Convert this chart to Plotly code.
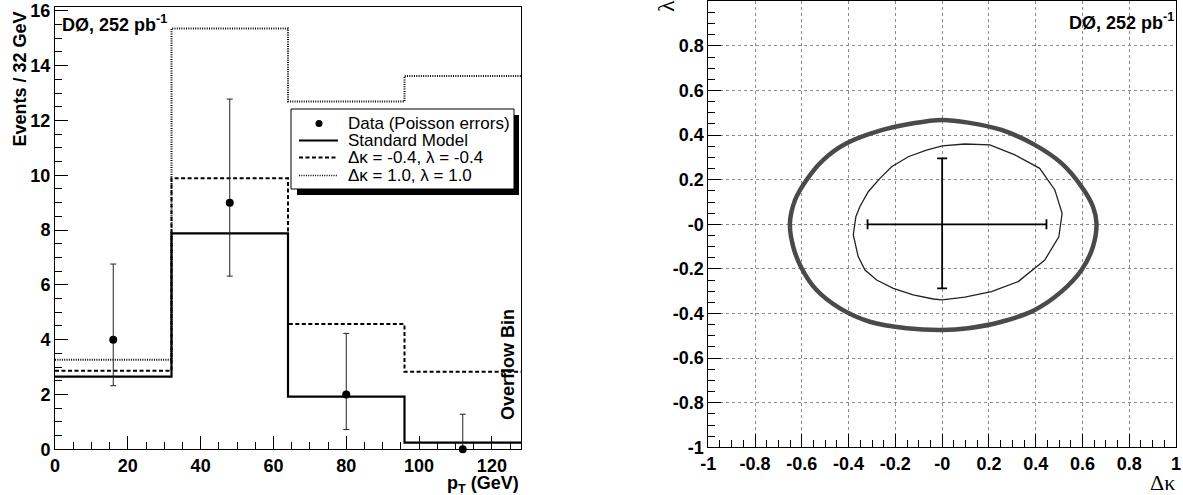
import plotly.graph_objects as go

W, H = 1183, 495

# ---------------- data: left panel (pT histogram) ----------------
bin_edges = [0, 32, 64, 96, 128]
sm_values = [2.65, 7.88, 1.92, 0.24]
dk_m04_values = [2.87, 9.89, 4.57, 2.83]
dk_p10_values = [3.27, 15.36, 12.69, 13.62]
data_x = [16, 48, 80, 112]
data_y = [4, 9, 2, 0]
data_err_up = [2.76, 3.78, 2.23, 1.28]
data_err_down = [1.68, 2.68, 1.28, 0.0]

# ---------------- data: right panel (Δκ vs λ contours) ----------------
outer_dk = [0.0, 0.111, 0.254, 0.396, 0.510, 0.596, 0.645, 0.660, 0.645, 0.596, 0.510, 0.396,
            0.254, 0.111, 0.0, -0.152, -0.309, -0.437, -0.537, -0.601, -0.637, -0.651, -0.629,
            -0.580, -0.509, -0.409, -0.266, -0.124, 0.0]
outer_lam = [0.468, 0.456, 0.423, 0.356, 0.274, 0.169, 0.079, 0.004, -0.100, -0.205, -0.302, -0.384,
             -0.437, -0.466, -0.474, -0.466, -0.437, -0.377, -0.295, -0.197, -0.100, 0.004, 0.109,
             0.199, 0.288, 0.363, 0.420, 0.453, 0.468]
inner_dk = [-0.067, 0.0, 0.097, 0.204, 0.311, 0.417, 0.482, 0.513, 0.499, 0.439, 0.325, 0.211,
            0.097, 0.0, -0.038, -0.124, -0.209, -0.280, -0.330, -0.359, -0.380, -0.369, -0.352,
            -0.316, -0.266, -0.216, -0.145, -0.067]
inner_lam = [0.333, 0.352, 0.360, 0.356, 0.311, 0.251, 0.154, 0.049, -0.056, -0.160, -0.257, -0.302,
             -0.327, -0.339, -0.335, -0.317, -0.287, -0.250, -0.205, -0.145, -0.048, 0.034, 0.079,
             0.146, 0.206, 0.258, 0.303, 0.333]
best_dk = [0.0]
best_lam = [0.0]
dk_err_plus = [0.446]
dk_err_minus = [0.319]
lam_err_plus = [0.296]
lam_err_minus = [0.287]

left_xticks = [0, 20, 40, 60, 80, 100, 120]
left_yticks = [0, 2, 4, 6, 8, 10, 12, 14, 16]
right_ticks = [-1, -0.8, -0.6, -0.4, -0.2, 0, 0.2, 0.4, 0.6, 0.8, 1]
right_ticktext = ["-1", "-0.8", "-0.6", "-0.4", "-0.2", "-0", "0.2", "0.4", "0.6", "0.8", "1"]

legend_labels = ["Data (Poisson errors)", "Standard Model",
                 "Δκ = -0.4, λ = -0.4", "Δκ = 1.0, λ = 1.0"]


def px(x):
    return x / W


def py(y):
    return 1 - y / H


def step_y(vals):
    return vals + [vals[-1]]


def b(labels):
    return ["<b>%s</b>" % str(t) for t in labels]


FONT = "Liberation Sans"
fig = go.Figure()

# histograms
fig.add_trace(go.Scatter(x=bin_edges, y=step_y(dk_p10_values), mode="lines", line_shape="hv",
                         line=dict(color="black", width=2, dash="1px,1.3px"),
                         xaxis="x", yaxis="y", showlegend=False))
fig.add_trace(go.Scatter(x=bin_edges, y=step_y(dk_m04_values), mode="lines", line_shape="hv",
                         line=dict(color="black", width=2, dash="4px,2.5px"),
                         xaxis="x", yaxis="y", showlegend=False))
fig.add_trace(go.Scatter(x=bin_edges, y=step_y(sm_values), mode="lines", line_shape="hv",
                         line=dict(color="black", width=2.2),
                         xaxis="x", yaxis="y", showlegend=False))
fig.add_trace(go.Scatter(x=data_x, y=data_y, mode="markers",
                         marker=dict(color="black", size=8),
                         error_y=dict(type="data", array=data_err_up, arrayminus=data_err_down,
                                      color="#222", thickness=1, width=3),
                         xaxis="x", yaxis="y", showlegend=False, cliponaxis=False))

# right panel
fig.add_trace(go.Scatter(x=outer_dk, y=outer_lam, mode="lines", line_shape="spline",
                         line=dict(color="#4a4a4a", width=4.5),
                         xaxis="x2", yaxis="y2", showlegend=False))
fig.add_trace(go.Scatter(x=inner_dk, y=inner_lam, mode="lines",
                         line=dict(color="#222", width=1.3),
                         xaxis="x2", yaxis="y2", showlegend=False))
fig.add_trace(go.Scatter(x=best_dk, y=best_lam, mode="markers",
                         marker=dict(color="rgba(0,0,0,0)", size=1),
                         error_x=dict(type="data", array=dk_err_plus, arrayminus=dk_err_minus,
                                      color="black", thickness=1.8, width=5),
                         error_y=dict(type="data", array=lam_err_plus, arrayminus=lam_err_minus,
                                      color="black", thickness=1.8, width=5),
                         xaxis="x2", yaxis="y2", showlegend=False))

tickfont = dict(family=FONT, size=18, color="black")
common = dict(showline=True, linecolor="black", linewidth=1, mirror=True, zeroline=False,
              ticks="inside", tickcolor="black", ticklen=13, tickwidth=1, tickfont=tickfont,
              automargin=False)

fig.update_layout(
    width=W, height=H,
    margin=dict(l=0, r=0, t=0, b=0, autoexpand=False),
    paper_bgcolor="white", plot_bgcolor="white",
    showlegend=False,
    xaxis=dict(domain=[px(55), px(521)], anchor="y", range=[0, 128],
               tickvals=left_xticks, ticktext=b(left_xticks), showgrid=False,
               minor=dict(dtick=5, ticks="inside", ticklen=7, tickcolor="black", showgrid=False),
               **common),
    yaxis=dict(domain=[py(449.3), py(7)], anchor="x", range=[0, 16.14],
               tickvals=left_yticks, ticktext=b(left_yticks), showgrid=False,
               minor=dict(dtick=0.5, ticks="inside", ticklen=7, tickcolor="black", showgrid=False),
               **common),
    xaxis2=dict(domain=[px(708.3), px(1176)], anchor="y2", range=[-1, 1],
                tickvals=right_ticks, ticktext=b(right_ticktext),
                showgrid=True, gridcolor="#8a8a8a", gridwidth=1, griddash="dot",
                minor=dict(dtick=0.05, tick0=-1, ticks="inside", ticklen=7, tickcolor="black",
                           showgrid=False),
                **common),
    yaxis2=dict(domain=[py(447.3), py(1.3)], anchor="x2", range=[-1, 1],
                tickvals=right_ticks, ticktext=b(right_ticktext),
                showgrid=True, gridcolor="#8a8a8a", gridwidth=1, griddash="dot",
                minor=dict(dtick=0.05, tick0=-1, ticks="inside", ticklen=7, tickcolor="black",
                           showgrid=False),
                **common),
)

# ---- manual legend (left panel) ----
shapes = []
shapes.append(dict(type="rect", xref="paper", yref="paper", x0=px(297), x1=px(519),
                   y0=py(195), y1=py(115), fillcolor="black", line=dict(width=0), layer="above"))
shapes.append(dict(type="rect", xref="paper", yref="paper", x0=px(291), x1=px(514),
                   y0=py(189), y1=py(109), fillcolor="white",
                   line=dict(color="black", width=1), layer="above"))
row_y = [123.5, 140.5, 157.5, 175.5]
shapes.append(dict(type="circle", xref="paper", yref="paper", x0=px(315.5), x1=px(322.5),
                   y0=py(row_y[0] + 3.5), y1=py(row_y[0] - 3.5), fillcolor="black",
                   line=dict(width=0), layer="above"))
sample_styles = [dict(color="black", width=2),
                 dict(color="black", width=2, dash="4px,2.5px"),
                 dict(color="black", width=1.5, dash="1px,1.3px")]
for i, st in enumerate(sample_styles):
    yy = row_y[i + 1]
    shapes.append(dict(type="line", xref="paper", yref="paper", x0=px(299), x1=px(338),
                       y0=py(yy), y1=py(yy), line=st, layer="above"))
fig.update_layout(shapes=shapes)

ann = []
for lbl, yy in zip(legend_labels, row_y):
    ann.append(dict(text=lbl, xref="paper", yref="paper", x=px(346), y=py(yy),
                    xanchor="left", yanchor="middle", showarrow=False,
                    font=dict(family=FONT, size=17, color="black")))

bold = dict(family=FONT, size=18, color="black")
ann.append(dict(text="<b>Events / 32 GeV</b>", xref="paper", yref="paper", x=px(19), y=py(10),
                xanchor="center", yanchor="top", textangle=-90, showarrow=False, font=bold))
ann.append(dict(text="<b>p<sub>T</sub> (GeV)</b>", xref="paper", yref="paper", x=px(521), y=py(484),
                xanchor="right", yanchor="middle", showarrow=False, font=bold))
ann.append(dict(text="<b>DØ, 252 pb<sup>-1</sup></b>", xref="paper", yref="paper", x=px(60), y=py(24),
                xanchor="left", yanchor="middle", showarrow=False, font=bold))
ann.append(dict(text="<b>Overflow Bin</b>", xref="paper", yref="paper", x=px(508), y=py(365),
                xanchor="center", yanchor="middle", textangle=-90, showarrow=False, font=bold))
ann.append(dict(text="<b>DØ, 252 pb<sup>-1</sup></b>", xref="paper", yref="paper", x=px(1176), y=py(21),
                xanchor="right", yanchor="middle", showarrow=False, font=bold))
ann.append(dict(text="λ", xref="paper", yref="paper", x=px(666), y=py(6),
                xanchor="center", yanchor="middle", textangle=-90, showarrow=False,
                font=dict(family="Liberation Serif", size=24, color="black")))
ann.append(dict(text="Δκ", xref="paper", yref="paper", x=px(1177), y=py(482),
                xanchor="right", yanchor="middle", showarrow=False,
                font=dict(family="Liberation Serif", size=22, color="black")))
fig.update_layout(annotations=ann)

# remove the default 8px page margin so the figure sits at the window's corner
fig.write_html("out.html", config={"displayModeBar": False},
               post_script="document.body.style.margin='0px';")
